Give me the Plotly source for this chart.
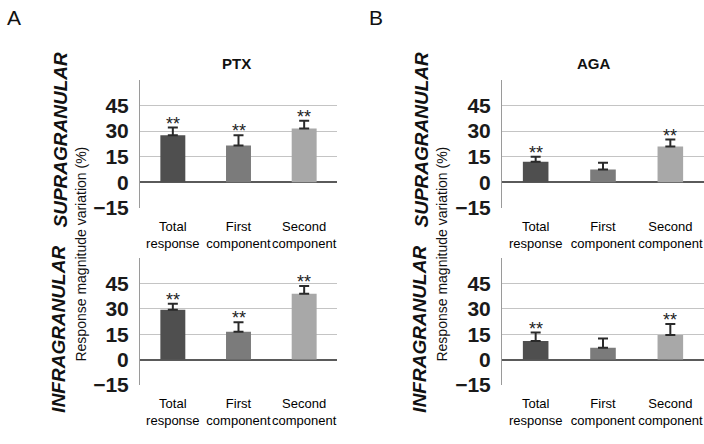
import plotly.graph_objects as go
from plotly.subplots import make_subplots

# data
categories = ["Total<br>response", "First<br>component", "Second<br>component"]
bar_colors = ["#4f4f4f", "#7b7b7b", "#a8a8a8"]

ptx_supra = [27.5, 21.5, 31.5]
ptx_supra_err = [4.5, 6.0, 4.5]
ptx_supra_sig = [True, True, True]

ptx_infra = [29.5, 16.5, 39.0]
ptx_infra_err = [3.5, 5.5, 4.5]
ptx_infra_sig = [True, True, True]

aga_supra = [12.0, 7.5, 21.0]
aga_supra_err = [3.0, 4.0, 4.0]
aga_supra_sig = [True, False, True]

aga_infra = [11.0, 7.0, 14.5]
aga_infra_err = [5.0, 5.5, 6.5]
aga_infra_sig = [True, False, True]

y_ticks = [-15, 0, 15, 30, 45]

W, H = 704, 444
FONT = "Liberation Sans, Arial, sans-serif"

fig = make_subplots(rows=2, cols=2)

panels = [
    (1, 1, ptx_supra, ptx_supra_err, ptx_supra_sig),
    (2, 1, ptx_infra, ptx_infra_err, ptx_infra_sig),
    (1, 2, aga_supra, aga_supra_err, aga_supra_sig),
    (2, 2, aga_infra, aga_infra_err, aga_infra_sig),
]

for row, col, vals, errs, sig in panels:
    fig.add_trace(go.Bar(
        x=categories, y=vals,
        marker=dict(color=bar_colors, line=dict(width=0)),
        error_y=dict(type="data", array=errs, symmetric=False, arrayminus=[0] * 3,
                     color="#2a2a2a", thickness=2, width=5),
        showlegend=False, hoverinfo="skip",
    ), row=row, col=col)
    # significance stars
    for c, v, e, s in zip(categories, vals, errs, sig):
        if s:
            fig.add_annotation(x=c, y=v + e, text="**", showarrow=False,
                               yanchor="bottom", yshift=-8,
                               font=dict(family=FONT, size=18, color="#222"),
                               row=row, col=col)

# pixel based domains
def xd(a, b):
    return [a / W, b / W]

def yd(top, bottom):
    return [1 - bottom / H, 1 - top / H]

doms_x = {1: xd(140, 337), 2: xd(502, 704)}
doms_y = {1: yd(81.7, 213.3), 2: yd(264.7, 394.7)}

for row in (1, 2):
    for col in (1, 2):
        fig.update_xaxes(domain=doms_x[col], showline=False, showgrid=False,
                         ticks="", tickangle=0, ticklabelstandoff=9,
                         tickfont=dict(family=FONT, size=13, color="#000"),
                         row=row, col=col)
        fig.update_yaxes(domain=doms_y[row], range=[-15, 60], tickvals=y_ticks,
                         showgrid=True, gridcolor="#c4c4c4", gridwidth=1,
                         zeroline=True, zerolinecolor="#5a5a5a", zerolinewidth=1.5,
                         showline=True, linecolor="#9a9a9a", linewidth=1,
                         ticks="", ticklabelstandoff=6,
                         tickfont=dict(family=FONT, size=21, color="#1a1a1a", weight="bold"),
                         row=row, col=col)

fig.update_layout(bargap=0.62)

# panel titles and letters
for txt, x, y, size, weight in [
    ("A", 14, 18, 21, "normal"), ("B", 376, 18, 21, "normal"),
    ("PTX", 236, 65, 15, "bold"), ("AGA", 594, 65, 15, "bold"),
]:
    fig.add_annotation(x=x / W, y=1 - y / H, xref="paper", yref="paper", text=txt,
                       showarrow=False, xanchor="center", yanchor="middle",
                       font=dict(family=FONT, size=size, color="#111", weight=weight))

# rotated side labels
for off in (0, 361):
    fig.add_annotation(x=(60 + off) / W, y=1 - 143 / H, xref="paper", yref="paper",
                       text="<i>SUPRAGRANULAR</i>", textangle=-90, showarrow=False,
                       xanchor="center", yanchor="middle",
                       font=dict(family=FONT, size=19, color="#111", weight="bold"))
    fig.add_annotation(x=(59 + off) / W, y=1 - 338 / H, xref="paper", yref="paper",
                       text="<i>INFRAGRANULAR</i>", textangle=-90, showarrow=False,
                       xanchor="center", yanchor="middle",
                       font=dict(family=FONT, size=19, color="#111", weight="bold"))
    fig.add_annotation(x=(81 + off) / W, y=1 - 261 / H, xref="paper", yref="paper",
                       text="Response magnitude variation (%)", textangle=-90, showarrow=False,
                       xanchor="center", yanchor="middle",
                       font=dict(family=FONT, size=14, color="#111"))

fig.update_layout(width=W, height=H, margin=dict(l=0, r=0, t=0, b=0),
                  paper_bgcolor="white", plot_bgcolor="white")

# drop the default page margin so the figure sits at the window corner
fig.write_html("out.html", config={"displayModeBar": False},
               post_script="document.body.style.margin='0';")
